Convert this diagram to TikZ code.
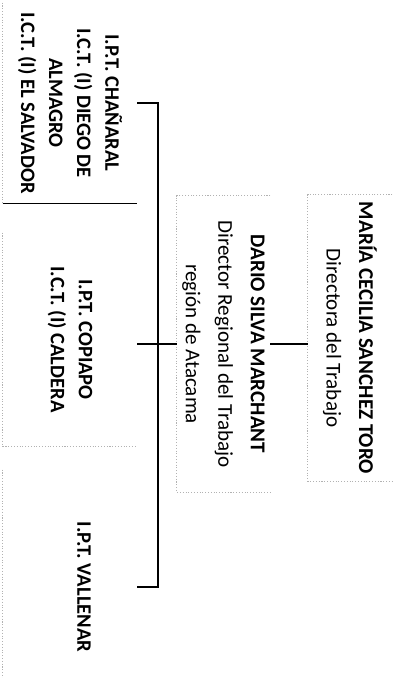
\documentclass[tikz,border=0pt]{standalone}
\usepackage{fontspec}
\setmainfont{Carlito}
\usetikzlibrary{positioning}

\tikzset{
  head/.style={rotate=-90, inner sep=0pt, align=center, font=\fontsize{12}{18.5}\selectfont},
  unit/.style={rotate=-90, inner sep=0pt, align=center, font=\fontsize{11.7}{16}\selectfont\bfseries},
  link/.style={line width=1.1pt},
  rim/.style={draw=gray!60, densely dotted, line width=0.6pt},
}

\begin{document}
\begin{tikzpicture}[x=0.02cm, y=-0.02cm]
    \useasboundingbox (0,0) rectangle (398,678);
    \clip (0,0) rectangle (398,678);

    % Direccion del Trabajo
    \node[head, minimum width=5.72cm, minimum height=1.68cm] (maria) at (350,338)
        {\textbf{MARÍA CECILIA SANCHEZ TORO}\\Directora del Trabajo};

    % Direccion Regional
    \node[head, minimum width=5.92cm, minimum height=1.86cm] (dario) at (223.5,344)
        {\textbf{DARIO SILVA MARCHANT}\\Director Regional del Trabajo\\región de Atacama};

    % Inspecciones
    \node[unit, minimum width=4.0cm, minimum height=2.68cm] (chanaral) at (70,103)
        {I.P.T. CHAÑARAL\\I.C.T. (I) DIEGO DE\\ALMAGRO\\I.C.T. (I) EL SALVADOR};
    \node[unit, minimum width=4.26cm, minimum height=2.68cm] (copiapo) at (70,339.5)
        {I.P.T. COPIAPO\\I.C.T. (I) CALDERA};
    \node[unit, minimum width=4.68cm, minimum height=2.68cm] (vallenar) at (70,587)
        {I.P.T. VALLENAR\\\mbox{}};

    % Box borders
    \draw[rim] (maria.north west) -- (maria.south west) -- (maria.south east) -- (maria.north east);
    \draw[rim] (dario.north west) -- (dario.south west) -- (dario.south east) -- (dario.north east);
    \draw[rim] (chanaral.south west) -- (chanaral.south east);
    \draw[line width=0.8pt] (chanaral.south east) -- (chanaral.north east);
    \draw[rim] (copiapo.south west) -- (copiapo.south east) -- (copiapo.north east);
    \draw[rim] (vallenar.south west) -- (vallenar.south east);

    % Connectors
    \coordinate (bar) at (158,345);
    \draw[link] (dario.north) -- (dario.north -| maria.south);
    \draw[link] (dario.south) -- (dario.south -| copiapo.north);
    \draw[link] (chanaral.north) -| (bar);
    \draw[link] (vallenar.north) -| (bar);
\end{tikzpicture}
\end{document}
